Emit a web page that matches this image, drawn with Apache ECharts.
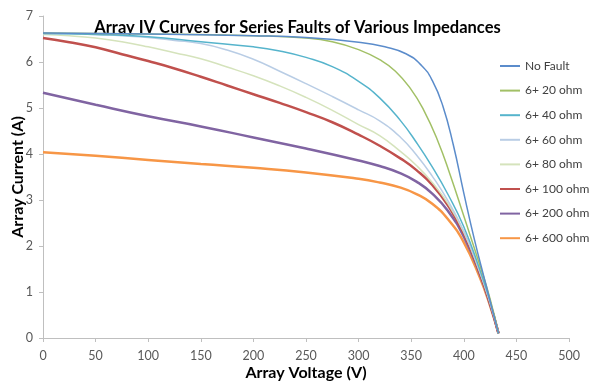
<!DOCTYPE html>
<html>
<head>
<meta charset="utf-8">
<script src="https://cdn.jsdelivr.net/npm/echarts@6/dist/echarts.min.js"></script>
<style>
  html, body { margin: 0; padding: 0; background: #fff; }
  #chart { width: 595px; height: 381px; }
</style>
</head>
<body>
<div id="chart"></div>
<script>
// [voltage (V), current (A)]
var noFault = [[0,6.63],[100,6.61],[200,6.57],[250,6.53],[300,6.43],[325,6.33],[345,6.18],[360,5.92],[370,5.6],[380,5.05],[390,4.2],[400,3.15],[410,2.15],[420,1.25],[433,0.1]];
var ohm20 = [[0,6.63],[100,6.61],[200,6.57],[250,6.52],[275,6.44],[300,6.27],[320,6.05],[335,5.8],[350,5.4],[362,4.95],[375,4.3],[387,3.55],[400,2.65],[415,1.6],[425,0.85],[433,0.1]];
var ohm40 = [[0,6.62],[50,6.6],[100,6.55],[150,6.44],[200,6.33],[225,6.24],[250,6.1],[275,5.9],[300,5.58],[320,5.22],[340,4.72],[355,4.25],[370,3.72],[385,3.12],[400,2.42],[415,1.5],[425,0.8],[433,0.1]];
var ohm60 = [[0,6.62],[25,6.61],[50,6.6],[75,6.57],[100,6.53],[125,6.47],[150,6.4],[175,6.26],[200,6.06],[225,5.8],[250,5.53],[275,5.25],[300,4.96],[320,4.72],[340,4.36],[355,3.98],[370,3.52],[385,2.98],[400,2.32],[415,1.45],[425,0.77],[433,0.1]];
var ohm80 = [[0,6.6],[25,6.57],[50,6.52],[75,6.44],[100,6.33],[125,6.2],[150,6.07],[175,5.89],[200,5.7],[225,5.48],[250,5.23],[275,4.95],[300,4.64],[320,4.4],[340,4.05],[355,3.75],[370,3.38],[385,2.92],[400,2.3],[415,1.45],[425,0.76],[433,0.1]];
var ohm100 = [[0,6.52],[25,6.43],[50,6.32],[75,6.17],[100,6.02],[125,5.86],[150,5.68],[175,5.49],[200,5.3],[225,5.11],[250,4.91],[275,4.69],[300,4.42],[320,4.18],[340,3.9],[355,3.65],[370,3.33],[385,2.88],[400,2.27],[415,1.43],[425,0.75],[433,0.1]];
var ohm200 = [[0,5.33],[50,5.07],[100,4.82],[150,4.6],[200,4.36],[250,4.12],[300,3.86],[320,3.74],[340,3.58],[355,3.4],[370,3.14],[385,2.76],[400,2.2],[415,1.4],[425,0.73],[433,0.1]];
var ohm600 = [[0,4.04],[50,3.96],[100,3.87],[150,3.78],[200,3.7],[250,3.6],[300,3.46],[320,3.38],[340,3.27],[355,3.13],[370,2.92],[385,2.58],[400,2.08],[415,1.33],[425,0.7],[433,0.1]];

var names = ['No Fault','6+ 20 ohm','6+ 40 ohm','6+ 60 ohm','6+ 80 ohm','6+ 100 ohm','6+ 200 ohm','6+ 600 ohm'];
var curves = [noFault, ohm20, ohm40, ohm60, ohm80, ohm100, ohm200, ohm600];
var colors = ['#5b8ccb','#a2c066','#56b4cc','#b9cde5','#d5e3bc','#c0504d','#8064a2','#f79646'];
var widths = [1.5,1.5,1.5,1.5,1.5,2.5,2.5,2.5];

var series = [];
for (var i = 0; i < curves.length; i++) {
    series.push({
        name: names[i],
        type: 'line',
        data: curves[i],
        smooth: 0.5,
        symbol: 'none',
        z: 10 - i,
        lineStyle: { color: colors[i], width: widths[i] },
        itemStyle: { color: colors[i] }
    });
}

var option = {
    animation: false,
    textStyle: { fontFamily: 'Lato' },
    title: {
        text: 'Array IV Curves for Series Faults of Various Impedances',
        left: 'center',
        top: 14,
        textStyle: { fontSize: 16.5, fontWeight: 'bold', color: '#000', fontFamily: 'Lato' }
    },
    legend: {
        orient: 'vertical',
        left: 495,
        top: 55,
        itemWidth: 20,
        itemHeight: 2,
        itemGap: 12.6,
        icon: 'rect',
        data: names,
        textStyle: { color: '#404040', fontSize: 12, fontFamily: 'Lato' }
    },
    grid: { left: 43, right: 26, top: 16, bottom: 43, outerBoundsMode: 'none' },
    xAxis: {
        type: 'value',
        min: 0,
        max: 500,
        interval: 50,
        name: 'Array Voltage (V)',
        nameLocation: 'middle',
        nameGap: 27,
        nameMoveOverlap: false,
        nameTextStyle: { fontSize: 16, fontWeight: 'bold', color: '#000' },
        axisLine: { lineStyle: { color: '#bfbfbf' } },
        axisTick: { length: 4, lineStyle: { color: '#bfbfbf' } },
        axisLabel: { color: '#595959', fontSize: 12.5, margin: 11 },
        splitLine: { show: false }
    },
    yAxis: {
        type: 'value',
        min: 0,
        max: 7,
        interval: 1,
        name: 'Array Current (A)',
        nameLocation: 'middle',
        nameGap: 17,
        nameMoveOverlap: false,
        nameTextStyle: { fontSize: 16, fontWeight: 'bold', color: '#000' },
        axisLine: { show: true, lineStyle: { color: '#bfbfbf' } },
        axisTick: { show: true, length: 4, lineStyle: { color: '#bfbfbf' } },
        axisLabel: { color: '#595959', fontSize: 12.5, margin: 10 },
        splitLine: { show: false }
    },
    series: series
};

var chart = echarts.init(document.getElementById('chart'));
chart.setOption(option);
</script>
</body>
</html>
